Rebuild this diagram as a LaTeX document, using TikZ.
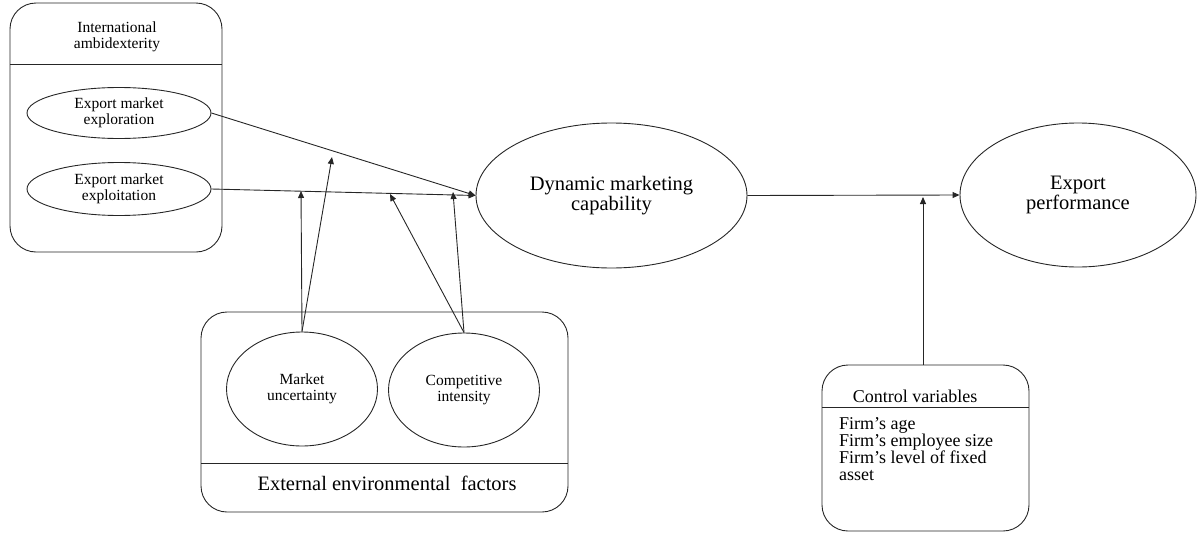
\documentclass[tikz,border=0pt]{standalone}
\usepackage{fontspec}
\setmainfont{Liberation Serif}
\usetikzlibrary{arrows.meta,shapes.geometric}

\tikzset{
  line/.style={line width=0.9pt, draw=black!85},
  arr/.style={line, -{Triangle[length=7pt,width=6pt]}},
  oval/.style={ellipse, line, inner sep=0pt, align=center},
  panel/.style={line, rounded corners=26pt},
}

\begin{document}
\begin{tikzpicture}[x=1pt,y=-1pt]
\useasboundingbox (0,0) rectangle (1197,533);

% International ambidexterity panel
\draw[panel] (10,3) rectangle (222,252);
\draw[line] (10,64) -- (222,64);
\node[font=\fontsize{15.5}{15.5}\selectfont, align=center] (iatitle) at (117,37) {International\\ambidexterity};
\node[oval, minimum width=184pt, minimum height=51pt, font=\fontsize{15.5}{16.5}\selectfont] (explor) at (119,113) {Export market\\exploration};
\node[oval, minimum width=184pt, minimum height=53pt, font=\fontsize{15.5}{16.5}\selectfont] (exploit) at (119,189) {Export market\\exploitation};

% central and outcome constructs
\node[oval, minimum width=271pt, minimum height=145pt, font=\fontsize{20.5}{20}\selectfont] (dmc) at (611.5,195.5) {Dynamic marketing\\capability};
\node[oval, minimum width=236pt, minimum height=144pt, font=\fontsize{20.5}{20}\selectfont] (ep) at (1078,195) {Export\\performance};

% External environmental factors panel
\draw[panel] (201,312) rectangle (568,512);
\draw[line] (201,463) -- (568,463);
\node[font=\fontsize{20.5}{20}\selectfont] (eeftitle) at (387,483) {External environmental\ \ factors};
\node[oval, minimum width=151pt, minimum height=114pt, font=\fontsize{15.5}{16.5}\selectfont] (mu) at (302,389) {Market\\uncertainty};
\node[oval, minimum width=151pt, minimum height=114pt, font=\fontsize{15.5}{16.5}\selectfont] (ci) at (464,390) {Competitive\\intensity};

% Control variables panel
\draw[panel] (822,365) rectangle (1029,531);
\draw[line] (822,407) -- (1029,407);
\node[font=\fontsize{18}{18}\selectfont] (cvtitle) at (915,396) {Control variables};
\node[anchor=north west, inner sep=0pt, align=left, font=\fontsize{18}{16.5}\selectfont] (cvlist) at (839,417.5)
  {Firm’s age\\Firm’s employee size\\Firm’s level of fixed\\asset};
\coordinate (cvtop) at (923,365);

% moderation targets on the paths
\coordinate (t1) at (301,191);
\coordinate (t2) at (332,157);
\coordinate (t3) at (390,194);
\coordinate (t4) at (453,192);
\coordinate (t5) at (923,197);

% main paths
\draw[arr] (explor.east) -- (dmc.west);
\draw[arr] (exploit.east) -- (dmc.west);
\draw[arr] (dmc.east) -- (ep.west);

% moderating effects
\draw[arr] (mu.north) -- (t1);
\draw[arr] (mu.north) -- (t2);
\draw[arr] (ci.north) -- (t3);
\draw[arr] (ci.north) -- (t4);
\draw[arr] (cvtop) -- (t5);
\end{tikzpicture}
\end{document}
